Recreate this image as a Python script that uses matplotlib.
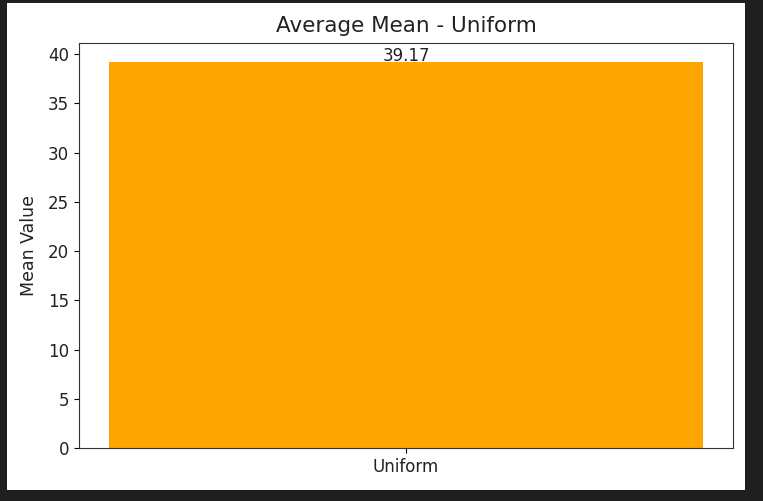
import matplotlib
matplotlib.use("Agg")
import matplotlib.pyplot as plt
from matplotlib.patches import Rectangle

# data
categories = ["Uniform"]
mean_values = [39.17]

fig = plt.figure(figsize=(7.63, 5.01), dpi=100, facecolor="#1f1f1f")
# white notebook output area
fig.patches.append(Rectangle((7 / 763, 11 / 501), 738 / 763, 487 / 501,
                             transform=fig.transFigure, facecolor="white",
                             edgecolor="none", zorder=-1))

ax = fig.add_axes([79 / 763, 1 - 448 / 501, 654 / 763, 405 / 501])
bars = ax.bar(categories, mean_values, color="orange")
for bar, value in zip(bars, mean_values):
    ax.annotate(f"{value:.2f}", (bar.get_x() + bar.get_width() / 2, bar.get_height()),
                xytext=(0, 1), textcoords="offset points",
                ha="center", va="baseline", fontsize=12, color="#222222")

ax.set_title("Average Mean - Uniform", fontsize=15.5, pad=8, color="#222222")
ax.set_ylabel("Mean Value", fontsize=12.5, labelpad=7, color="#222222")
ax.tick_params(labelsize=12, labelcolor="#222222")
for s in ax.spines.values():
    s.set_color("#333333")

fig.savefig("out.png", dpi=100, facecolor=fig.get_facecolor())
